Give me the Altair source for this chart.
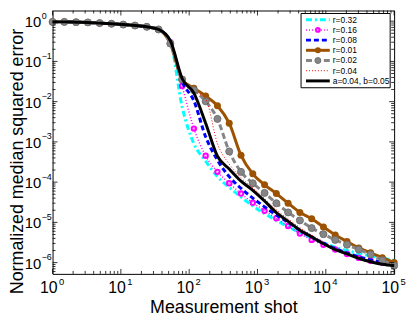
import altair as alt
import pandas as pd

# ---------------- data ----------------
shots = [1, 1.487, 2.212, 3.290, 4.894, 7.279, 10.83, 16.10, 23.95, 35.62,
         52.98, 78.80, 117.2, 174.3, 259.3, 385.7, 573.7, 853.2, 1269, 1888,
         2807, 4175, 6210, 9237, 13738, 20434, 30392, 45204, 67234, 100000]

head = [0.96, 0.96, 0.946, 0.931, 0.895, 0.861, 0.823, 0.778, 0.724, 0.623]

err_r032 = head + [0.30, 0.00748, 9.05e-4, 3.32e-4, 1.37e-4, 7.4e-5, 4.25e-5, 2.57e-5, 1.65e-5, 1.12e-5,
                   7.8e-6, 5.6e-6, 4.1e-6, 3.1e-6, 2.42e-6, 2.0e-6, 1.69e-6, 1.47e-6, 1.28e-6, 1.14e-6]
err_r016 = head + [0.30, 0.0245, 0.00214, 4.52e-4, 1.8e-4, 9.4e-5, 5.2e-5, 3.09e-5, 1.95e-5, 1.27e-5,
                   8.1e-6, 5.3e-6, 3.67e-6, 2.78e-6, 2.11e-6, 1.64e-6, 1.31e-6, 1.11e-6, 9.95e-7, 9.1e-7]
err_r008 = head + [0.30, 0.0318, 0.01046, 1.34e-3, 3.52e-4, 1.37e-4, 7.0e-5, 4.02e-5, 2.43e-5, 1.52e-5,
                   1.0e-5, 6.4e-6, 4.35e-6, 3.03e-6, 2.23e-6, 1.73e-6, 1.39e-6, 1.17e-6, 1.02e-6, 9.1e-7]
err_r001 = head + [0.278, 0.0356, 0.0216, 0.0138, 0.00792, 0.00291, 4.64e-4, 1.61e-4, 8.6e-5, 5.2e-5,
                   2.99e-5, 1.77e-5, 1.23e-5, 7.7e-6, 4.85e-6, 3.34e-6, 2.32e-6, 1.75e-6, 1.33e-6, 1.0e-6]
err_r002 = head + [0.278, 0.0356, 0.0193, 0.0102, 0.00373, 5.8e-4, 1.8e-4, 9.4e-5, 5.4e-5, 2.99e-5,
                   1.77e-5, 1.12e-5, 7.2e-6, 5.1e-6, 3.67e-6, 2.78e-6, 2.11e-6, 1.6e-6, 1.14e-6, 8.4e-7]
err_r004 = head + [0.31, 0.0376, 0.0182, 0.0117, 9.05e-4, 2.81e-4, 1.29e-4, 7.2e-5, 3.9e-5, 2.06e-5,
                   1.22e-5, 7.4e-6, 4.85e-6, 3.29e-6, 2.29e-6, 1.73e-6, 1.35e-6, 1.11e-6, 9.4e-7, 8.6e-7]
err_ab = head + [0.329, 0.0376, 0.0163, 0.00291, 4.39e-4, 2.13e-4, 1.06e-4, 6.27e-5, 3.4e-5, 1.75e-5,
                 1.06e-5, 6.4e-6, 4.35e-6, 2.94e-6, 2.11e-6, 1.64e-6, 1.28e-6, 1.05e-6, 9.1e-7, 8.4e-7]

legend_labels = ["r=0.32", "r=0.16", "r=0.08", "r=0.01", "r=0.02", "r=0.04", "a=0.04, b=0.05"]
x_exponents = [0, 1, 2, 3, 4, 5]
y_exponents = [0, -1, -2, -3, -4, -5, -6]
x_minor = [m * 10 ** e for e in range(0, 5) for m in range(2, 10)]
y_minor = [m * 10.0 ** e for e in range(-7, 0) for m in range(2, 10) if m * 10.0 ** e > 5.3e-7]

# ---------------- layout / style ----------------
W, H = 345, 266
FONT = "Liberation Sans"
X_DOMAIN = [1, 1e5]
Y_DOMAIN = [5.25e-7, 1.84]

x_axis = alt.Axis(values=[10 ** e for e in x_exponents], labels=False,
                  ticks=False, domain=False, grid=False,
                  title="Measurement shot", titleFont=FONT, titleFontSize=18,
                  titleFontWeight="normal", titleColor="black", titleY=39,
                  titleBaseline="alphabetic")
y_axis = alt.Axis(values=[10.0 ** e for e in y_exponents], labels=False,
                  ticks=False, domain=False, grid=False,
                  title="Normalized median squared error", titleFont=FONT, titleFontSize=18,
                  titleFontWeight="normal", titleColor="black", titleX=-30.5, titleY=152,
                  titleBaseline="alphabetic")

X = alt.X("shot:Q", scale=alt.Scale(type="log", domain=X_DOMAIN, nice=False), axis=x_axis)
Y = alt.Y("err:Q", scale=alt.Scale(type="log", domain=Y_DOMAIN, nice=False), axis=y_axis)

BROWN = "#9C5200"
GRAY = "#858585"


def frame(vals):
    return pd.DataFrame({"shot": shots, "err": vals})


def line(vals, color, width, dash=None):
    kw = dict(color=color, strokeWidth=width, interpolate="monotone")
    if dash:
        kw["strokeDash"] = dash
    return alt.Chart(frame(vals)).mark_line(**kw).encode(x=X, y=Y)


layers = []
layers.append(line(err_r032, "#00FFFF", 3, [6, 3, 2, 3]))
layers.append(line(err_r016, "#FF00FF", 1.5, [1, 2]))
layers.append(alt.Chart(frame(err_r016)).mark_point(shape="circle", filled=False, color="#FF00FF",
                                                     strokeWidth=2, size=20, opacity=1).encode(x=X, y=Y))
layers.append(line(err_r008, "#0000FF", 3, [5, 3]))
layers.append(line(err_r001, BROWN, 3))
layers.append(alt.Chart(frame(err_r001)).mark_circle(color=BROWN, size=50, opacity=1).encode(x=X, y=Y))
layers.append(line(err_r002, GRAY, 3, [6, 3]))
layers.append(alt.Chart(frame(err_r002)).mark_circle(color=GRAY, size=50, opacity=1,
                                                      stroke="#707070", strokeWidth=1).encode(x=X, y=Y))
layers.append(line(err_r004, "#FF0000", 1, [1, 2]))
layers.append(line(err_ab, "#000000", 3))

# inward ticks on all four sides
xt_major = pd.DataFrame({"shot": [10 ** e for e in x_exponents],
                         "base": ["10"] * len(x_exponents),
                         "exp": [str(e) for e in x_exponents]})
xt_minor = pd.DataFrame({"shot": x_minor})
yt_major = pd.DataFrame({"err": [10.0 ** e for e in y_exponents],
                         "base": ["10"] * len(y_exponents),
                         "exp": [str(e).replace("-", "\u2212") for e in y_exponents]})
yt_minor = pd.DataFrame({"err": y_minor})
for df, ln in [(xt_major, 5), (xt_minor, 3)]:
    layers.append(alt.Chart(df).mark_rule(color="black", strokeWidth=0.8).encode(
        x=X, y=alt.value(H), y2=alt.value(H - ln)))
    layers.append(alt.Chart(df).mark_rule(color="black", strokeWidth=0.8).encode(
        x=X, y=alt.value(0), y2=alt.value(ln)))
for df, ln in [(yt_major, 5), (yt_minor, 3)]:
    layers.append(alt.Chart(df).mark_rule(color="black", strokeWidth=0.8).encode(
        y=Y, x=alt.value(0), x2=alt.value(ln)))
    layers.append(alt.Chart(df).mark_rule(color="black", strokeWidth=0.8).encode(
        y=Y, x=alt.value(W), x2=alt.value(W - ln)))

# tick labels "10" with raised exponent
layers.append(alt.Chart(xt_major).mark_text(align="right", baseline="alphabetic", font=FONT,
                                            fontSize=16, color="black", dx=5).encode(
    x=X, y=alt.value(H + 19), text="base:N"))
layers.append(alt.Chart(xt_major).mark_text(align="left", baseline="alphabetic", font=FONT,
                                            fontSize=9.5, color="black", dx=6.5).encode(
    x=X, y=alt.value(H + 11.5), text="exp:N"))
layers.append(alt.Chart(yt_major).mark_text(align="right", baseline="alphabetic", font=FONT,
                                            fontSize=15, color="black", dy=6).encode(
    y=Y, x=alt.value(-11.5), text="base:N"))
layers.append(alt.Chart(yt_major).mark_text(align="left", baseline="alphabetic", font=FONT,
                                            fontSize=9, color="black", dy=-2.5).encode(
    y=Y, x=alt.value(-11), text="exp:N"))

# legend box
one = pd.DataFrame({"k": [0]})
layers.append(alt.Chart(one).mark_rect(fill="white", stroke="black", strokeWidth=1).encode(
    x=alt.value(251), x2=alt.value(341), y=alt.value(3), y2=alt.value(78)))

leg_styles = [
    dict(color="#00FFFF", strokeWidth=3, strokeDash=[6, 3, 2, 3]),
    dict(color="#FF00FF", strokeWidth=1.5, strokeDash=[1, 2]),
    dict(color="#0000FF", strokeWidth=3, strokeDash=[5, 3]),
    dict(color=BROWN, strokeWidth=3),
    dict(color=GRAY, strokeWidth=3, strokeDash=[6, 3]),
    dict(color="#FF0000", strokeWidth=1, strokeDash=[1, 2]),
    dict(color="#000000", strokeWidth=3),
]
for i, (lab, st) in enumerate(zip(legend_labels, leg_styles)):
    yy = 9.3 + 10.3 * i
    df = pd.DataFrame({"label": [lab]})
    layers.append(alt.Chart(df).mark_rule(**st).encode(
        x=alt.value(256), x2=alt.value(280), y=alt.value(yy)))
    if i == 1:
        layers.append(alt.Chart(df).mark_point(shape="circle", filled=False, color="#FF00FF",
                                               strokeWidth=2, size=14, opacity=1).encode(
            x=alt.value(268), y=alt.value(yy)))
    if i == 3:
        layers.append(alt.Chart(df).mark_circle(color=BROWN, size=36, opacity=1).encode(
            x=alt.value(268), y=alt.value(yy)))
    if i == 4:
        layers.append(alt.Chart(df).mark_circle(color=GRAY, size=36, opacity=1, stroke="#707070",
                                                strokeWidth=1).encode(
            x=alt.value(268), y=alt.value(yy)))
    layers.append(alt.Chart(df).mark_text(align="left", baseline="middle", font=FONT,
                                          fontSize=8.5, color="black").encode(
        x=alt.value(283), y=alt.value(yy), text="label:N"))

chart = alt.layer(*layers).properties(
    width=W, height=H,
    autosize=alt.AutoSizeParams(type="none"),
    padding={"left": 45, "top": 1, "right": 13, "bottom": 41},
    background="white",
).configure_view(stroke="black", strokeWidth=1)

chart.save("out.html", embed_options={"renderer": "svg", "actions": False})
